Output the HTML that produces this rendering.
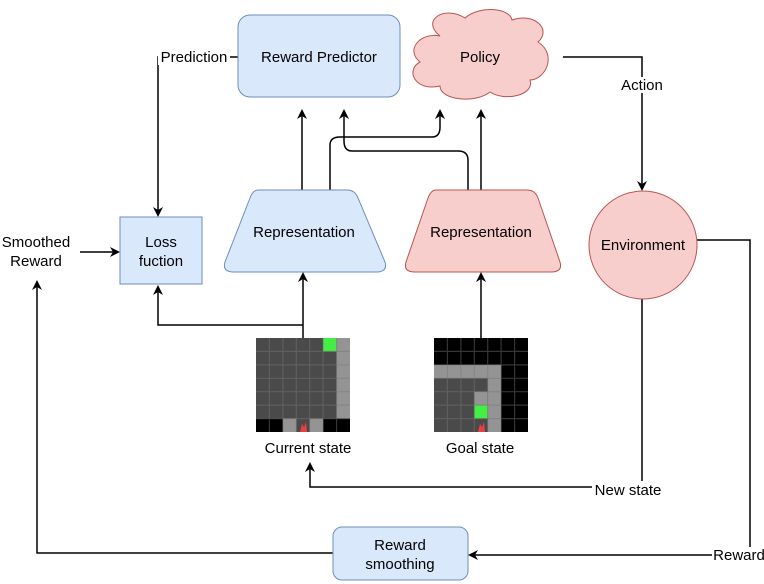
<!DOCTYPE html>
<html><head><style>body{margin:0;background:#fff}svg{display:block}text{font-family:"Liberation Sans",Arial,sans-serif;font-size:15px;fill:#000}</style></head><body>
<svg width="764" height="584" viewBox="0 0 764 584" xmlns="http://www.w3.org/2000/svg">
<defs><marker id="a" markerWidth="10" markerHeight="10" refX="8" refY="5" orient="auto" markerUnits="userSpaceOnUse"><path d="M0,0 L10,5 L0,10 L3,5 z" fill="#000"/></marker></defs>
<g fill="none" stroke="#000" stroke-width="1.5">
<path d="M238,57 H158 V215" marker-end="url(#a)"/>
<path d="M80,252 H118" marker-end="url(#a)"/>
<path d="M302,190 V111" marker-end="url(#a)"/>
<path d="M330,190 V145 Q330,137 340,137 H432 Q440,137 440,127 V111" marker-end="url(#a)"/>
<path d="M468,190 V160 Q468,151 458,151 H352 Q344,151 344,141 V111" marker-end="url(#a)"/>
<path d="M481,190 V111" marker-end="url(#a)"/>
<path d="M563,57 H642 V189" marker-end="url(#a)"/>
<path d="M697,240 H750 V555 H470" marker-end="url(#a)"/>
<path d="M642,299 V487 H310 V464" marker-end="url(#a)"/>
<path d="M333,553 H37 V282" marker-end="url(#a)"/>
<path d="M303,338 V274" marker-end="url(#a)"/>
<path d="M303,325 H158 V287" marker-end="url(#a)"/>
<path d="M481,338 V274" marker-end="url(#a)"/>
</g>
<rect x="238" y="15" width="162" height="82" rx="12" fill="#dae8fc" stroke="#6c8ebf"/>
<text x="319" y="62" text-anchor="middle">Reward Predictor</text>
<path d="M440,36 C420,20 445,5 465,18 C480,5 510,8 512,20 C535,12 552,30 538,42 C558,55 545,80 530,80 C535,95 505,102 490,92 C475,104 440,100 440,86 C415,92 405,70 420,62 C405,50 420,32 440,36 Z" fill="#f8cecc" stroke="#b85450"/>
<text x="480" y="62" text-anchor="middle">Policy</text>
<path d="M258,190 H347 Q355,190 358,198 L385,262 Q388,272 376,272 H234 Q222,272 225,262 L250,198 Q253,190 258,190 Z" fill="#dae8fc" stroke="#6c8ebf"/>
<text x="304" y="237" text-anchor="middle">Representation</text>
<path d="M436,190 H527 Q535,190 538,198 L560,262 Q563,272 551,272 H415 Q403,272 406,262 L428,198 Q431,190 436,190 Z" fill="#f8cecc" stroke="#b85450"/>
<text x="481" y="237" text-anchor="middle">Representation</text>
<circle cx="643" cy="245" r="54" fill="#f8cecc" stroke="#b85450"/>
<text x="643" y="250" text-anchor="middle">Environment</text>
<rect x="120" y="217" width="82" height="67" fill="#dae8fc" stroke="#6c8ebf"/>
<text x="161" y="247" text-anchor="middle">Loss</text><text x="161" y="266" text-anchor="middle">fuction</text>
<rect x="333" y="527" width="135" height="53" rx="9" fill="#dae8fc" stroke="#6c8ebf"/>
<text x="400" y="550" text-anchor="middle">Reward</text><text x="400" y="569" text-anchor="middle">smoothing</text>
<text x="36" y="247" text-anchor="middle">Smoothed</text><text x="36" y="266" text-anchor="middle">Reward</text>
<rect x="158" y="49" width="72" height="16" fill="#fff"/><text x="194" y="62" text-anchor="middle">Prediction</text>
<rect x="617" y="77" width="50" height="16" fill="#fff"/><text x="642" y="90" text-anchor="middle">Action</text>
<rect x="592" y="481" width="72" height="16" fill="#fff"/><text x="628" y="495" text-anchor="middle">New state</text>
<rect x="712" y="547" width="52" height="16" fill="#fff"/><text x="739" y="560" text-anchor="middle">Reward</text>
<text x="308" y="453" text-anchor="middle">Current state</text>
<text x="480" y="453" text-anchor="middle">Goal state</text>
<g transform="translate(256,338)">
<rect width="94" height="94" fill="#4a4a4a"/>
<rect x="80.6" y="0" width="13.4" height="80.6" fill="#949494"/>
<rect x="0" y="80.6" width="26.9" height="13.4" fill="#000"/>
<rect x="67.1" y="80.6" width="26.9" height="13.4" fill="#000"/>
<rect x="26.9" y="80.6" width="13.4" height="13.4" fill="#949494"/>
<rect x="53.7" y="80.6" width="13.4" height="13.4" fill="#949494"/>
<rect x="67.1" y="0" width="13.4" height="13.4" fill="#44ee44"/>
<path d="M44,94 L46,86 L48,89 L50,84 L51,94Z" fill="#e84040"/>
<g stroke="#777" stroke-width="1.2" opacity="0.45"><path d="M13.4,0V94M26.9,0V94M40.3,0V94M53.7,0V94M67.1,0V94M80.6,0V94M0,13.4H94M0,26.9H94M0,40.3H94M0,53.7H94M0,67.1H94M0,80.6H94"/></g>
</g>
<g transform="translate(434,338)">
<rect width="94" height="94" fill="#000"/>
<rect x="0" y="40.3" width="53.7" height="53.7" fill="#4a4a4a"/>
<rect x="0" y="26.9" width="67.1" height="13.4" fill="#949494"/>
<rect x="53.7" y="26.9" width="13.4" height="67.1" fill="#949494"/>
<rect x="40.3" y="53.7" width="13.4" height="13.4" fill="#949494"/>
<rect x="40.3" y="67.1" width="13.4" height="13.4" fill="#44ee44"/>
<path d="M44,94 L46,86 L48,89 L50,84 L51,94Z" fill="#e84040"/>
<g stroke="#777" stroke-width="1.2" opacity="0.45"><path d="M13.4,0V94M26.9,0V94M40.3,0V94M53.7,0V94M67.1,0V94M80.6,0V94M0,13.4H94M0,26.9H94M0,40.3H94M0,53.7H94M0,67.1H94M0,80.6H94"/></g>
</g>
</svg>
</body></html>
